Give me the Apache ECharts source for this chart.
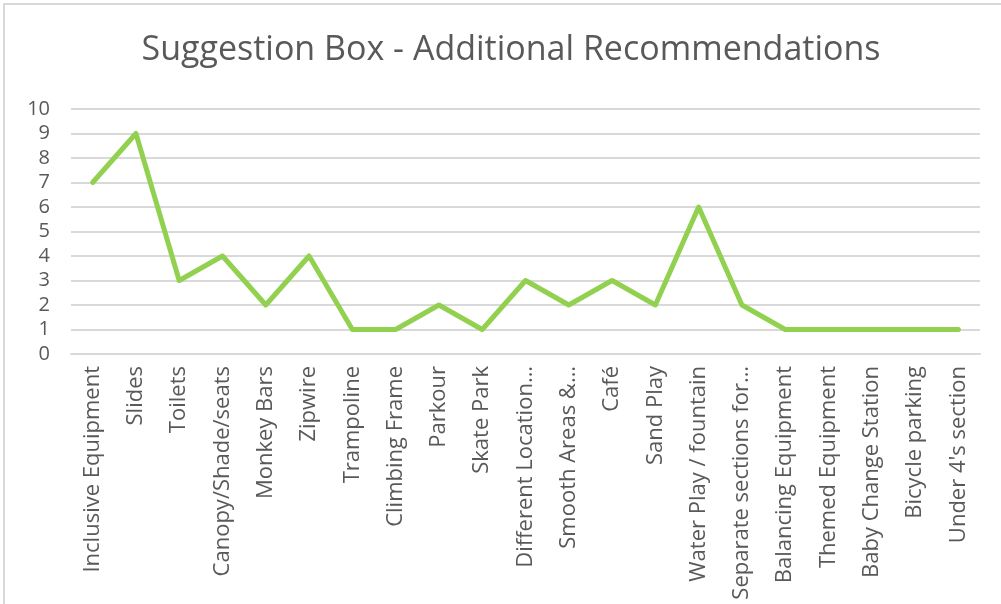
<!DOCTYPE html>
<html>
<head>
<meta charset="utf-8">
<script src="https://cdn.jsdelivr.net/npm/echarts@6/dist/echarts.min.js"></script>
<style>
  html, body { margin: 0; padding: 0; background: #ffffff; }
  #chart { width: 1001px; height: 604px; }
</style>
</head>
<body>
<div id="chart"></div>
<script>
const titleText = 'Suggestion Box - Additional Recommendations';
const categories = [
  'Inclusive Equipment', 'Slides', 'Toilets', 'Canopy/Shade/seats', 'Monkey Bars',
  'Zipwire', 'Trampoline', 'Climbing Frame', 'Parkour', 'Skate Park',
  'Different Location…', 'Smooth Areas &…', 'Café', 'Sand Play', 'Water Play / fountain',
  'Separate sections for…', 'Balancing Equipment', 'Themed Equipment', 'Baby Change Station',
  'Bicycle parking', "Under 4's section"
];
const values = [7, 9, 3, 4, 2, 4, 1, 1, 2, 1, 3, 2, 3, 2, 6, 2, 1, 1, 1, 1, 1];
const yTicks = { min: 0, max: 10, interval: 1 };

const chart = echarts.init(document.getElementById('chart'), null, { renderer: 'canvas' });
const FONT = '"Open Sans", "Noto Sans", sans-serif';
chart.setOption({
  backgroundColor: '#ffffff',
  animation: false,
  graphic: [{
    type: 'rect',
    shape: { x: 4, y: 4, width: 1020, height: 620 },
    style: { fill: 'none', stroke: '#d9d9d9', lineWidth: 2 },
    silent: true
  }],
  title: {
    text: titleText,
    left: 506,
    textAlign: 'center',
    top: 28,
    textStyle: { fontFamily: FONT, fontSize: 34, fontWeight: 'normal', color: '#595959' }
  },
  grid: { left: 71, right: 21, top: 109, bottom: 250, containLabel: false },
  xAxis: {
    type: 'category',
    data: categories,
    boundaryGap: true,
    axisLine: { show: true, lineStyle: { color: '#d9d9d9', width: 2 } },
    axisTick: { show: false },
    axisLabel: {
      rotate: 90,
      interval: 0,
      margin: 12,
      fontFamily: FONT,
      fontSize: 22,
      color: '#595959'
    }
  },
  yAxis: {
    type: 'value',
    min: yTicks.min,
    max: yTicks.max,
    interval: yTicks.interval,
    axisLine: { show: false },
    axisTick: { show: false },
    splitLine: { lineStyle: { color: '#d9d9d9', width: 2 } },
    axisLabel: { margin: 21, fontFamily: FONT, fontSize: 20, color: '#595959' }
  },
  series: [{
    type: 'line',
    data: values,
    symbol: 'none',
    lineStyle: { color: '#92d050', width: 5, cap: 'round', join: 'round' },
    itemStyle: { color: '#92d050' }
  }]
});
</script>
</body>
</html>
